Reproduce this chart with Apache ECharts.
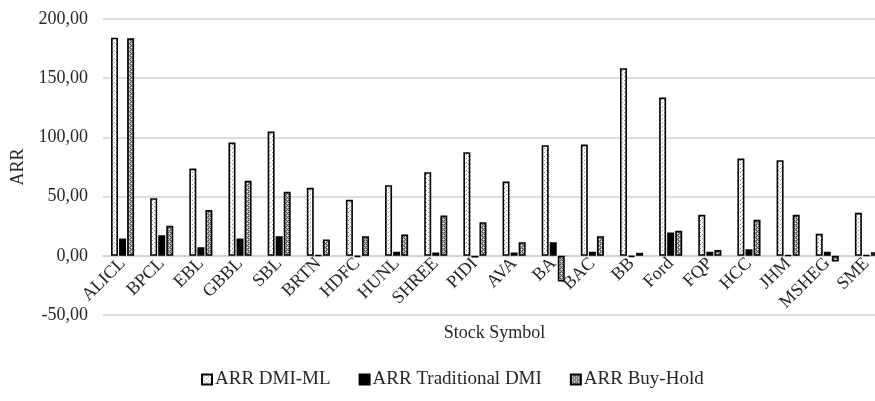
<!DOCTYPE html>
<html>
<head>
<meta charset="utf-8">
<script src="https://cdn.jsdelivr.net/npm/echarts@6/dist/echarts.min.js"></script>
<style>
  html, body { margin: 0; padding: 0; background: #fff; }
  #chart { width: 875px; height: 401px; }
</style>
</head>
<body>
<div id="chart"></div>
<script>
// Stock symbols on the category axis
const categories = ['ALICL', 'BPCL', 'EBL', 'GBBL', 'SBL', 'BRTN', 'HDFC', 'HUNL', 'SHREE', 'PIDI',
  'AVA', 'BA', 'BAC', 'BB', 'Ford', 'FQP', 'HCC', 'JHM', 'MSHEG', 'SME'];

// Annualised rate of return per strategy
const arrDmiMl = [184.2, 48.7, 73.7, 95.6, 104.9, 57.4, 47.3, 59.6, 70.6, 87.5,
  62.7, 93.4, 93.9, 158.4, 133.6, 34.6, 82.1, 80.7, 18.6, 36.3];
const arrTraditional = [14.6, 17.4, 7.3, 14.6, 16.6, 0.5, -1.0, 3.4, 2.8, -1.5,
  2.8, 11.5, 3.4, -1.0, 19.7, 3.4, 5.6, 0.4, 3.4, 0.5];
const arrBuyHold = [183.7, 25.3, 38.6, 63.3, 54.0, 13.8, 16.6, 18.0, 34.0, 28.4,
  11.5, -21.7, 16.6, 2.5, 21.1, 4.8, 30.4, 34.6, -4.8, 3.1];

const seriesNames = ['ARR DMI-ML', 'ARR Traditional DMI', 'ARR Buy-Hold'];

// Value axis range
const yMin = -50, yMax = 200, yStep = 50;

// Small repeating tiles used as bar fills
function makeTile(size, bg, dots) {
  const c = document.createElement('canvas');
  c.width = size; c.height = size;
  const g = c.getContext('2d');
  g.fillStyle = bg;
  g.fillRect(0, 0, size, size);
  dots.forEach(([x, y, col]) => { g.fillStyle = col; g.fillRect(x, y, 1, 1); });
  return { image: c, repeat: 'repeat' };
}

const sparseDots = makeTile(4, '#ffffff', [[0, 0, '#8a8a8a'], [2, 2, '#8a8a8a'], [1, 3, '#d0d0d0']]);
const denseDots = makeTile(4, '#b0b0b0', [
  [0, 0, '#444444'], [2, 0, '#444444'], [1, 1, '#eeeeee'], [3, 1, '#666666'],
  [0, 2, '#444444'], [2, 2, '#444444'], [1, 3, '#666666'], [3, 3, '#eeeeee']
]);

const fonts = '"Liberation Serif", "Times New Roman", serif';
const textColor = '#262626';

const gridTop = 19, gridHeight = 296;
// The category axis sits on the zero line of the value axis
const zeroOffset = gridHeight * (0 - yMin) / (yMax - yMin);

const chart = echarts.init(document.getElementById('chart'), null, { renderer: 'canvas' });

function barSeries(name, data, fill) {
  return {
    name: name,
    type: 'bar',
    data: data,
    barWidth: 7,
    barGap: '15%',
    itemStyle: { color: fill, borderColor: '#000', borderWidth: 1.6 },
    emphasis: { disabled: true }
  };
}

chart.setOption({
  animation: false,
  textStyle: { fontFamily: fonts, color: textColor },
  grid: { left: 103, top: gridTop, width: 783, height: gridHeight, containLabel: false, outerBoundsMode: 'none' },
  legend: {
    data: seriesNames,
    bottom: 7,
    left: 196,
    itemWidth: 10,
    itemHeight: 10,
    itemGap: 28,
    icon: 'rect',
    textStyle: { fontFamily: fonts, fontSize: 19, color: textColor, padding: [0, 0, 0, -2] }
  },
  xAxis: {
    type: 'category',
    data: categories,
    name: 'Stock Symbol',
    nameLocation: 'middle',
    nameGap: 68,
    nameMoveOverlap: false,
    offset: -zeroOffset,
    nameTextStyle: { fontFamily: fonts, fontSize: 18, color: textColor },
    axisLine: { onZero: false, lineStyle: { color: '#d0d0d0', width: 1.5 } },
    axisTick: { show: false },
    axisLabel: { rotate: 45, fontFamily: fonts, fontSize: 18, color: textColor, margin: 5, interval: 0 },
    splitLine: { show: false }
  },
  yAxis: {
    type: 'value',
    min: yMin,
    max: yMax,
    interval: yStep,
    name: 'ARR',
    nameLocation: 'middle',
    nameGap: 72,
    nameTextStyle: { fontFamily: fonts, fontSize: 18, color: textColor },
    axisLine: { show: false },
    axisTick: { show: false },
    axisLabel: {
      fontFamily: fonts, fontSize: 18, color: textColor, margin: 15,
      formatter: v => v.toFixed(2).replace('.', ',')
    },
    splitLine: { lineStyle: { color: '#d0d0d0', width: 1.5 } }
  },
  series: [
    barSeries(seriesNames[0], arrDmiMl, sparseDots),
    barSeries(seriesNames[1], arrTraditional, '#000000'),
    barSeries(seriesNames[2], arrBuyHold, denseDots)
  ]
});
</script>
</body>
</html>
